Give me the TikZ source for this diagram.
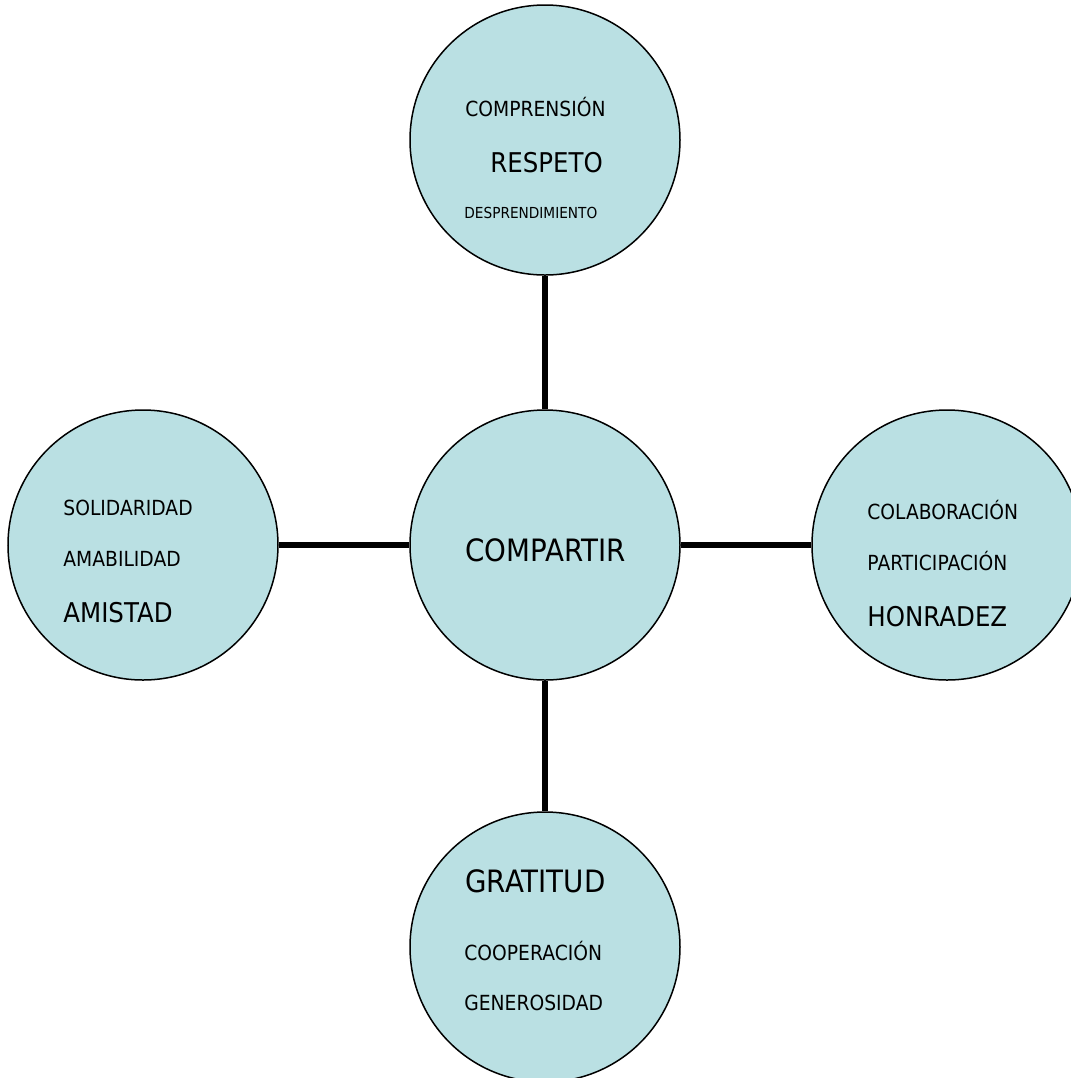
\documentclass[tikz,border=0pt]{standalone}
\usepackage{fontspec}
\setmainfont{DejaVu Sans}[FakeStretch=0.9]
\usepackage{tikz}

\definecolor{valfill}{HTML}{BAE0E3}

\tikzset{
	valor/.style={shape=circle,draw=black,line width=0.75pt,fill=valfill,minimum size=135pt,inner sep=0pt},
	word/.style={anchor=west,inner sep=0pt},
	small/.style={word,font=\fontsize{7.6pt}{9pt}\selectfont},
	mid/.style={word,font=\fontsize{10.4pt}{12pt}\selectfont},
	big/.style={word,font=\fontsize{13.6pt}{16pt}\selectfont},
	huge/.style={word,font=\fontsize{15.4pt}{18pt}\selectfont},
	link/.style={line width=2.6pt,black}
}

\begin{document}
\begin{tikzpicture}[x=0.5pt,y=-0.5pt]
	\useasboundingbox (0,0) rectangle (1071,1078);

	\node[valor] (top)    at (545, 140) {};
	\node[valor] (mid)    at (545, 545) {};
	\node[valor] (left)   at (143, 545) {};
	\node[valor] (right)  at (947, 545) {};
	\node[valor] (bottom) at (545, 947) {};

	\path[link] (top) edge (mid);
	\path[link] (left) edge (mid);
	\path[link] (mid) edge (right);
	\path[link] (mid) edge (bottom);

	% top circle
	\node[mid]   (comprension) at (465, 107) {COMPRENSIÓN};
	\node[big]   (respeto)     at (490, 163) {RESPETO};
	\node[small] (despren)     at (464, 213) {DESPRENDIMIENTO};

	% centre
	\node[huge]  (compartir)   at (465, 550) {COMPARTIR};

	% left circle
	\node[mid]   (solidaridad) at (63, 508) {SOLIDARIDAD};
	\node[mid]   (amabilidad)  at (63, 559) {AMABILIDAD};
	\node[big]   (amistad)     at (63, 613) {AMISTAD};

	% right circle
	\node[mid]   (colabora)    at (867, 510) {COLABORACIÓN};
	\node[mid]   (participa)   at (867, 561) {PARTICIPACIÓN};
	\node[big]   (honradez)    at (867, 617) {HONRADEZ};

	% bottom circle
	\node[huge]  (gratitud)    at (465, 881) {GRATITUD};
	\node[mid]   (coopera)     at (464, 951) {COOPERACIÓN};
	\node[mid]   (generosidad) at (464, 1003) {GENEROSIDAD};
\end{tikzpicture}
\end{document}
